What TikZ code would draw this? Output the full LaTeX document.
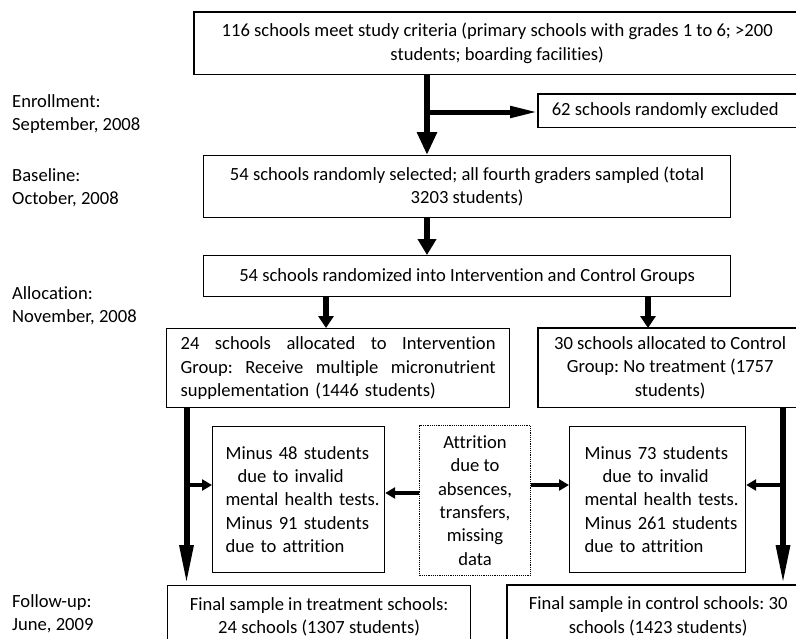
\documentclass[tikz,border=0pt]{standalone}
\usepackage{fontspec}
\setmainfont{Carlito}[Ligatures={NoCommon,NoContextual}]
\usetikzlibrary{arrows.meta}
\frenchspacing
\begin{document}
\begin{tikzpicture}[x=1pt,y=-1pt,
  every node/.style={font=\fontsize{18.6}{23.3}\selectfont\frenchspacing},
  box/.style={draw, line width=1.2pt, inner sep=0pt, anchor=north west, align=center},
  openbox/.style={inner sep=0pt, anchor=north west, align=flush center},
  boxline/.style={line width=1.2pt},
  dotbox/.style={box, densely dotted, line width=1pt},
  lab/.style={anchor=west, align=left, inner sep=0pt},
  bigarrow/.style={line width=6pt, -{Triangle[length=23pt,width=19pt]}},
  midarrow/.style={line width=6pt, -{Triangle[length=16pt,width=18pt]}},
  smallhead/.style={line width=6pt, -{Triangle[length=12pt,width=15pt]}},
  longarrow/.style={line width=6pt, -{Triangle[length=40pt,width=13pt]}},
  sidearrow/.style={line width=5pt, -{Triangle[length=28pt,width=11pt]}},
  tinyarrow/.style={line width=4.5pt, -{Triangle[length=10pt,width=11pt]}}
]
\useasboundingbox (0,0) rectangle (796,638);
\clip (0,0) rectangle (796,638);

% boxes (the ones cut by the right edge of the figure run past it)
\node[openbox, text width=606pt, minimum height=62pt] (top) at (194,12)
  {116 schools meet study criteria (primary schools with grades 1 to 6; >200\\students; boarding facilities)};
\draw[boxline] (top.north west) rectangle ([xshift=40pt]top.south east);
\node[openbox, text width=254pt, minimum height=33pt] (excl) at (538,94)
  {62 schools randomly excluded};
\draw[boxline] (excl.north west) rectangle ([xshift=40pt]excl.south east);
\node[box, minimum width=527pt, minimum height=62pt] (b2) at (203,155)
  {54 schools randomly selected; all fourth graders sampled (total\\3203 students)};
\node[box, minimum width=527pt, minimum height=41pt] (b3) at (203,255)
  {54 schools randomized into Intervention and Control Groups};
\node[box, minimum width=343pt, minimum height=79pt, text width=315pt, align=left, inner xsep=14pt] (b4) at (166,328)
  {\makebox[315pt][l]{24\hfill schools\hfill allocated\hfill to\hfill Intervention}\\
   \makebox[315pt][l]{Group:\hfill Receive\hfill multiple\hfill micronutrient}\\
   supplementation (1446 students)};
\node[openbox, text width=264pt, minimum height=79pt] (b5) at (538,328)
  {30 schools allocated to Control\\Group: No treatment (1757\\students)};
\draw[boxline] (b5.north west) rectangle ([xshift=40pt]b5.south east);
\node[box, minimum width=172pt, minimum height=146pt, text width=146pt, align=left, inner xsep=13pt] (m48) at (212,426)
  {\mbox{Minus 48 students}\\ \mbox{\hspace*{12pt}due to invalid}\\ \mbox{mental health tests.}\\ \mbox{Minus 91 students}\\ \mbox{due to attrition}};
\node[dotbox, minimum width=111pt, minimum height=150pt] (attr) at (419,425)
  {Attrition\\due to\\absences,\\transfers,\\missing\\data};
\node[box, minimum width=176pt, minimum height=146pt, text width=146pt, align=left, inner xsep=15pt] (m73) at (569,426)
  {\mbox{Minus 73 students}\\ \mbox{\hspace*{18pt}due to invalid}\\ \mbox{mental health tests.}\\ \mbox{Minus 261 students}\\ \mbox{due to attrition}};
\node[box, minimum width=303pt, minimum height=62pt] (f1) at (167,585)
  {Final sample in treatment schools:\\24 schools (1307 students)};
\node[openbox, text width=302pt, minimum height=62pt] (f2) at (507,585)
  {Final sample in control schools: 30\\schools (1423 students)};
\draw[boxline] (f2.north west) rectangle ([xshift=40pt]f2.south east);

% timeline labels
\node[lab] (l1) at (12,114) {Enrollment:\\September, 2008};
\node[lab] (l2) at (12,187.5) {Baseline:\\October, 2008};
\node[lab] (l3) at (12,305.5) {Allocation:\\November, 2008};
\node[lab] (l4) at (12,614) {Follow-up:\\June, 2009};

% helper coordinates
\coordinate (mx) at (427,0);
\coordinate (br) at (427,112);
\coordinate (cL) at (326,0);
\coordinate (cR) at (648,0);
\coordinate (Lx) at (186.5,0);
\coordinate (Rx) at (783,0);
\coordinate (yA) at (0,485);
\coordinate (yB) at (0,493);

% connectors
\draw[bigarrow] (top.south -| mx) -- (b2.north -| mx);
\draw[sidearrow] (br) -- (excl.west |- br);
\draw[midarrow] (b2.south -| mx) -- (b3.north -| mx);
\draw[smallhead] (b3.south -| cL) -- (b4.north -| cL);
\draw[smallhead] (b3.south -| cR) -- (b5.north -| cR);
\draw[longarrow] (b4.south -| Lx) -- (f1.north -| Lx);
\draw[longarrow] (b5.south -| Rx) -- (f2.north -| Rx);
\draw[tinyarrow] (Lx |- yA) -- (m48.west |- yA);
\draw[tinyarrow] (Rx |- yA) -- (m73.east |- yA);
\draw[tinyarrow] (attr.west |- yB) -- (m48.east |- yB);
\draw[tinyarrow] (attr.east |- yA) -- (m73.west |- yA);
\end{tikzpicture}
\end{document}
